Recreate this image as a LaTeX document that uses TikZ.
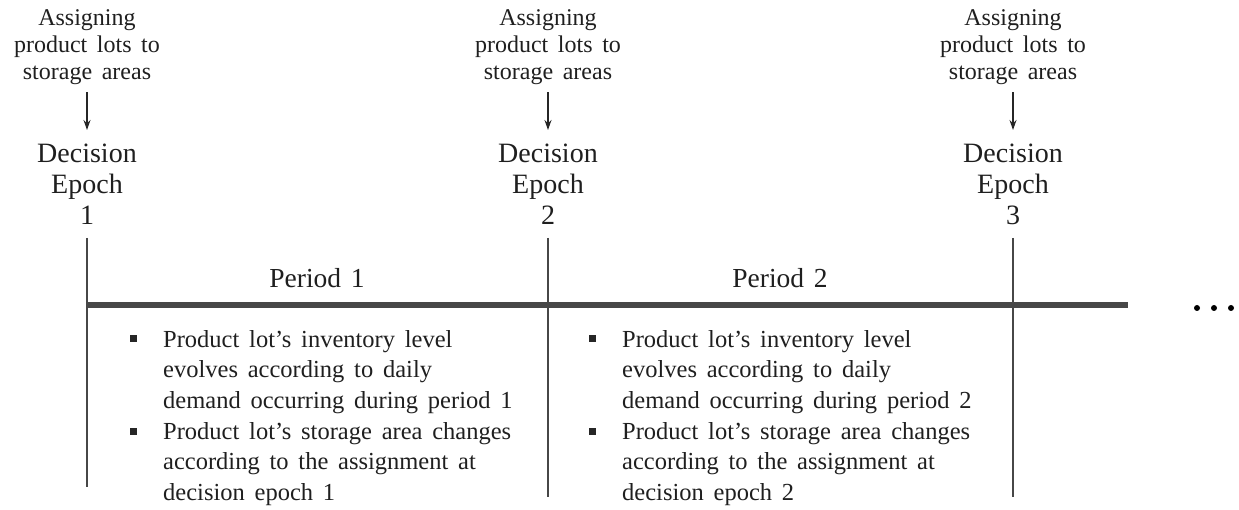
\documentclass[tikz,border=0pt]{standalone}
\usepackage{fontspec}
\setmainfont{Liberation Serif}
\usetikzlibrary{arrows.meta}
% font settings with slightly wider word spaces
\newcommand\taskfont{\fontsize{24}{27}\selectfont\spaceskip=0.4em plus 0.1em\relax}
\newcommand\epochfont{\fontsize{28}{31}\selectfont}
\newcommand\periodfont{\fontsize{27.5}{31}\selectfont\spaceskip=0.35em\relax}
\newcommand\bulletfont{\fontsize{24.5}{30.5}\selectfont\spaceskip=0.4em plus 0.1em\relax}
\begin{document}
\begin{tikzpicture}[x=1pt,y=-1pt,
  every node/.style={inner sep=0pt,text=black!88},
  task/.style={align=center,anchor=north,font=\taskfont},
  epoch/.style={align=center,anchor=north,font=\epochfont},
  period/.style={anchor=base,font=\periodfont},
  bul/.style={anchor=north west,align=left,font=\bulletfont},
  sq/.style={fill=black!85,minimum size=7pt,anchor=center},
  tick/.style={draw=black!72,line width=1.8pt},
  axis/.style={draw=black!72,line width=6.5pt},
  down/.style={draw=black!85,line width=1.3pt,-{Stealth[length=10pt,width=7pt]}},
  dot/.style={fill=black,circle,minimum size=6pt}]
\useasboundingbox (0,0) rectangle (1239,510);

% what happens at each decision epoch
\node[task] (t1) at (87,9)   {Assigning\\product lots to\\storage areas};
\node[task] (t2) at (548,9)  {Assigning\\product lots to\\storage areas};
\node[task] (t3) at (1013,9) {Assigning\\product lots to\\storage areas};

\node[epoch] (e1) at (87,144)   {Decision\\Epoch\\1};
\node[epoch] (e2) at (548,144)  {Decision\\Epoch\\2};
\node[epoch] (e3) at (1013,144) {Decision\\Epoch\\3};

\draw[down] ([yshift=-8pt]t1.south) -- ([yshift=14pt]e1.north);
\draw[down] ([yshift=-8pt]t2.south) -- ([yshift=14pt]e2.north);
\draw[down] ([yshift=-8pt]t3.south) -- ([yshift=14pt]e3.north);

% time axis and epoch ticks
\coordinate (a0) at (87,305);
\coordinate (aend) at (1128,305);
\draw[axis] (a0) -- (aend);

\coordinate (k1t) at (87,238);   \coordinate (k1b) at (87,487);
\coordinate (k2t) at (548,238);  \coordinate (k2b) at (548,497);
\coordinate (k3t) at (1013,238); \coordinate (k3b) at (1013,497);
\draw[tick] (k1t) -- (k1b);
\draw[tick] (k2t) -- (k2b);
\draw[tick] (k3t) -- (k3b);

\node[dot] (d1) at (1197,308) {};
\node[dot] (d2) at (1214,308) {};
\node[dot] (d3) at (1231,308) {};

% periods
\node[period] (p1) at (317,288) {Period 1};
\node[period] (p2) at (780,288) {Period 2};

% state transitions within each period
\node[bul] (b11) at (163,330) {Product lot’s inventory level\\evolves according to daily\\demand occurring during period 1};
\node[bul] (b12) at (163,422) {Product lot’s storage area changes\\according to the assignment at\\decision epoch 1};
\node[sq] (s11) at (133,339) {};
\node[sq] (s12) at (133,431) {};

\node[bul] (b21) at (622,330) {Product lot’s inventory level\\evolves according to daily\\demand occurring during period 2};
\node[bul] (b22) at (622,422) {Product lot’s storage area changes\\according to the assignment at\\decision epoch 2};
\node[sq] (s21) at (592,339) {};
\node[sq] (s22) at (592,431) {};
\end{tikzpicture}
\end{document}
